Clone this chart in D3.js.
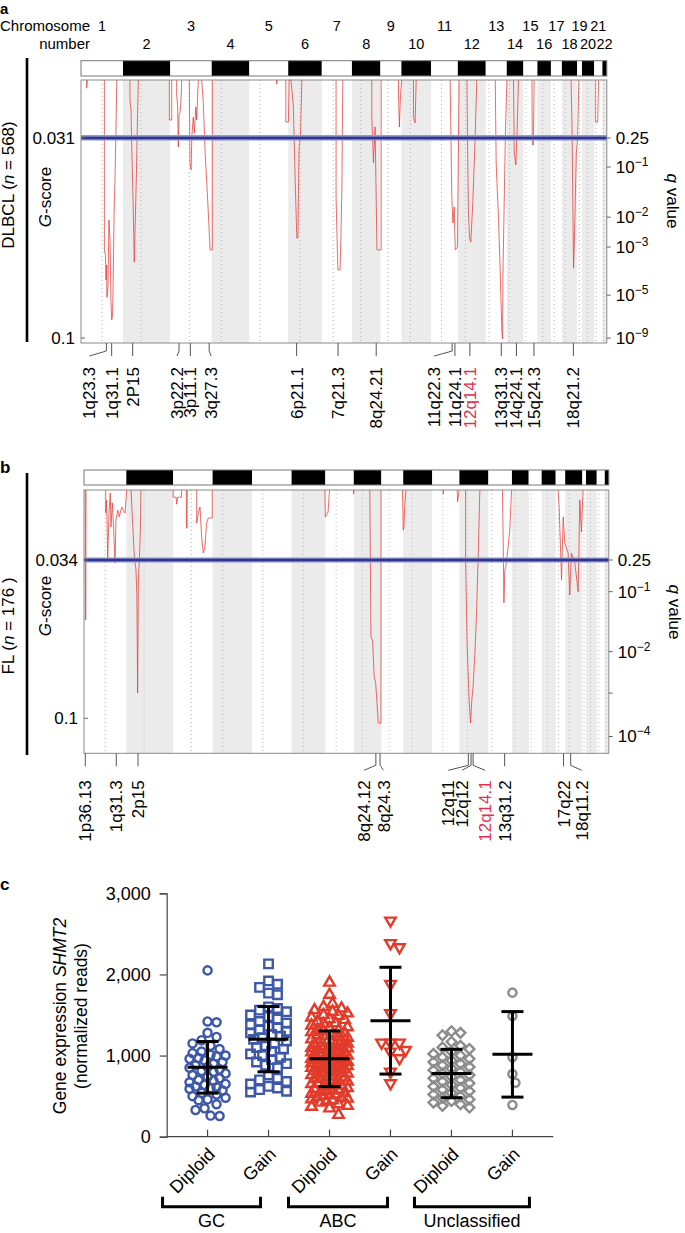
<!DOCTYPE html>
<html>
<head>
<meta charset="utf-8">
<script src="https://cdnjs.cloudflare.com/ajax/libs/d3/7.8.5/d3.min.js"></script>
<style>
body{margin:0;background:#fff;overflow:hidden}
text{font-family:"Liberation Sans",Arial,Helvetica,sans-serif;fill:#000}
</style>
</head>
<body>
<script>
// ---- panel a / b : GISTIC deletion profiles ----
var chrNames = d3.range(1, 23);
// relative chromosome lengths as drawn (genome units)
var chrLenA = [230, 259, 227, 206, 213, 184, 165, 156, 115, 163, 146, 153, 115, 91, 77, 74, 60, 84, 26, 67, 45, 24];
var chrLenB = [232, 257, 216, 217, 216, 185, 156, 151, 120, 159, 149, 159, 129, 92, 71, 77, 52, 94, 20, 59, 44, 22];
var centroFrac = [0.5, 0.38, 0.46, 0.26, 0.27, 0.35, 0.38, 0.31, 0.35, 0.3, 0.39, 0.27, 0.15, 0.16, 0.18, 0.4, 0.3, 0.22, 0.45, 0.43, 0.25, 0.28];

// G-score profile, [genome position, G-score]
var dipsA = [
  [[31,0.011],[31,0.0138],[35,0.011]],
  [[128,0.011],[128,0.0696],[134,0.0714],[137,0.080],[140,0.0748],[142,0.0859],[148,0.0817],[153,0.0593],[159,0.0662],[164,0.0869],[168,0.0938],[173,0.0921],[178,0.0731],[181,0.0576],[186,0.0455],[192,0.0265],[196,0.011]],
  [[268,0.011],[268,0.0179],[274,0.0213],[278,0.0341],[285,0.0524],[292,0.0738],[296,0.0627],[300,0.0524],[304,0.042],[307,0.0317],[314,0.011]],
  [[484,0.011],[484,0.0248],[497,0.0248],[497,0.011]],
  [[524,0.011],[524,0.0162],[529,0.0196],[533,0.0341],[537,0.023],[542,0.0224],[548,0.0179],[552,0.011]],
  [[593,0.011],[597,0.0396],[603,0.042],[607,0.0307],[615,0.0238],[621,0.0293],[629,0.0203],[634,0.0248],[640,0.0144],[643,0.011]],
  [[661,0.011],[670,0.0189],[680,0.0362],[694,0.0524],[701,0.0617],[707,0.0696],[719,0.0696],[719,0.011]],
  [[1072,0.011],[1072,0.0124],[1074,0.011]],
  [[1122,0.011],[1122,0.0255],[1136,0.0255],[1140,0.011],[1150,0.011],[1155,0.0144],[1163,0.020],[1173,0.045],[1182,0.0655],[1188,0.0655],[1192,0.045],[1195,0.0341],[1202,0.0307],[1210,0.011]],
  [[1397,0.011],[1397,0.0514],[1407,0.0765],[1419,0.0765],[1423,0.0672],[1429,0.0479],[1434,0.011]],
  [[1593,0.011],[1593,0.0238],[1602,0.0396],[1611,0.0272],[1621,0.0696],[1644,0.0696],[1644,0.011]],
  [[1739,0.011],[1739,0.016],[1744,0.0272],[1750,0.016],[1757,0.011]],
  [[1821,0.011],[1821,0.0238],[1830,0.0258],[1836,0.011]],
  [[2022,0.011],[2031,0.0514],[2037,0.0603],[2044,0.0548],[2050,0.0696],[2062,0.0686],[2071,0.011]],
  [[2114,0.011],[2117,0.0307],[2122,0.0569],[2128,0.0652],[2135,0.0669],[2146,0.0534],[2159,0.0307],[2168,0.011]],
  [[2269,0.011],[2274,0.0396],[2287,0.0593],[2296,0.0765],[2305,0.0972],[2309,0.1003],[2311,0.079],[2318,0.0534],[2325,0.028],[2333,0.011]],
  [[2369,0.011],[2373,0.0362],[2382,0.0403],[2389,0.028],[2396,0.011]],
  [[2470,0.011],[2472,0.0334],[2478,0.0334],[2482,0.011]],
  [[2684,0.011],[2689,0.0248],[2695,0.0593],[2698,0.0759],[2703,0.0652],[2713,0.0362],[2720,0.0317],[2727,0.011]],
  [[2817,0.011],[2817,0.0255],[2830,0.0255],[2835,0.011]]
];
var dipsB = [
  [[7,0.0048],[8,0.059],[10,0.059],[11,0.0048]],
  [[119,0.0048],[119,0.0144],[124,0.009],[130,0.0332],[137,0.0144],[144,0.006],[148,0.0202],[155,0.0102],[161,0.0186],[170,0.0353],[175,0.0173],[185,0.0132],[193,0.016],[207,0.0119],[215,0.0132],[225,0.0144],[234,0.0048]],
  [[258,0.0048],[265,0.0161],[276,0.0328],[285,0.0382],[290,0.0494],[294,0.0895],[298,0.0423],[303,0.0353],[309,0.0215],[312,0.0048]],
  [[489,0.0048],[489,0.0078],[505,0.0078],[508,0.0107],[514,0.0078],[535,0.0078],[535,0.0048]],
  [[561,0.0048],[562,0.0207],[565,0.0207],[566,0.0048]],
  [[618,0.0048],[618,0.0186],[626,0.0144],[636,0.0119],[645,0.0244],[654,0.0311],[663,0.0286],[672,0.0186],[681,0.0165],[703,0.0165],[703,0.0048]],
  [[1321,0.0048],[1323,0.0161],[1338,0.014],[1346,0.0048]],
  [[1478,0.0048],[1478,0.0065],[1480,0.0048]],
  [[1567,0.0048],[1573,0.0661],[1582,0.0674],[1591,0.0828],[1599,0.0853],[1604,0.0911],[1610,0.0978],[1613,0.102],[1628,0.102],[1628,0.0048]],
  [[1746,0.0048],[1750,0.0215],[1754,0.0201],[1758,0.012],[1765,0.0048]],
  [[1969,0.0048],[1969,0.0065],[1971,0.0048]],
  [[2046,0.0048],[2048,0.0097],[2057,0.0048]],
  [[2092,0.0048],[2092,0.034],[2100,0.0686],[2111,0.0924],[2119,0.102],[2126,0.0924],[2133,0.087],[2143,0.0728],[2152,0.0561],[2160,0.0353],[2170,0.0048]],
  [[2294,0.0048],[2298,0.0257],[2302,0.0519],[2307,0.0382],[2312,0.037],[2325,0.0286],[2334,0.0215],[2344,0.0048]],
  [[2599,0.0048],[2604,0.0102],[2618,0.0423],[2627,0.0161],[2636,0.0269],[2654,0.0311],[2663,0.0486],[2672,0.0311],[2691,0.0353],[2709,0.0473],[2718,0.009],[2727,0.0223],[2736,0.0048]]
];

var gTicksA = [0.031, 0.1];
var gTicksB = [0.034, 0.1];
var qTickGA = [0.031, 0.041, 0.0583, 0.0686, 0.0852, 0.1];
var qTickLabA = ["0.25", "-1", "-2", "-3", "-5", "-9"];
var qTickGB = [0.034, 0.0472, 0.0722, 0.0895, 0.1076];
var qTickLabB = ["0.25", "-1", "-2", "", "-4"];

var peakPosA = [139, 168, 283, 537, 599, 702, 1181, 1408, 1617, 2033, 2048, 2130, 2302, 2385, 2481, 2697];
var peakLabA = ["1q23.3", "1q31.1", "2P15", "3p22.2", "3p11.1", "3q27.3", "6p21.1", "7q21.3", "8q24.21", "11q22.3", "11q24.1", "12q14.1", "13q31.3", "14q24.1", "15q24.3", "18q21.2"];
var peakPosB = [7, 177, 296, 1600, 1623, 2107, 2122, 2133, 2306, 2629, 2668];
var peakLabB = ["1p36.13", "1q31.3", "2p15", "8q24.12", "8q24.3", "12q11", "12q12", "12q14.1", "13q31.2", "17q22", "18q11.2"];
var highlightBand = "12q14.1";

// ---- panel c : SHMT2 expression ----
var catLabels = ["Diploid", "Gain", "Diploid", "Gain", "Diploid", "Gain"];
var groupNames = ["GC", "ABC", "Unclassified"];
var gcDiploid = [2050, 1420, 1410, 1280, 1230, 1190, 1150, 1120, 1080, 1050, 1030, 1010, 1000, 990, 970, 960, 940, 920, 900, 880, 860, 850, 830, 810, 800, 780, 760, 740, 720, 700, 690, 670, 650, 640, 620, 610, 600, 590, 570, 540, 520, 500, 480, 460, 450, 400, 350, 330, 260, 255];
var gcGain = [2130, 1920, 1880, 1840, 1770, 1750, 1600, 1580, 1560, 1540, 1500, 1480, 1450, 1420, 1400, 1380, 1360, 1340, 1320, 1300, 1280, 1260, 1240, 1220, 1200, 1180, 1150, 1120, 1100, 1080, 1050, 1020, 1000, 980, 950, 920, 900, 880, 850, 760, 720, 700, 680, 650, 620, 600, 580, 560, 550];
var abcDiploid = [1900, 1750, 1640, 1600, 1580, 1560, 1540, 1520, 1500, 1490, 1470, 1450, 1440, 1420, 1400, 1390, 1370, 1350, 1340, 1320, 1310, 1300, 1290, 1280, 1260, 1250, 1240, 1230, 1220, 1200, 1190, 1180, 1170, 1160, 1150, 1140, 1130, 1120, 1110, 1100, 1095, 1090, 1080, 1070, 1060, 1050, 1045, 1040, 1030, 1020, 1010, 1005, 1000, 995, 990, 980, 975, 970, 960, 955, 950, 945, 940, 930, 925, 920, 910, 905, 900, 895, 890, 880, 875, 870, 860, 855, 850, 840, 835, 830, 820, 810, 800, 795, 790, 780, 770, 760, 750, 740, 730, 720, 710, 700, 690, 680, 670, 660, 650, 640, 630, 620, 610, 600, 590, 580, 570, 560, 550, 540, 530, 520, 510, 500, 490, 480, 470, 460, 450, 440, 420, 400, 380, 370, 350, 270];
var abcGain = [2663, 2385, 2335, 1883, 1521, 1159, 1159, 1159, 1069, 1048, 966, 801, 658];
var unclDiploid = [1300, 1280, 1250, 1170, 1120, 1100, 1080, 1050, 1020, 1000, 980, 960, 940, 920, 900, 880, 860, 840, 820, 800, 780, 760, 740, 720, 700, 680, 660, 640, 620, 600, 580, 560, 540, 520, 500, 480, 460, 440, 420, 400, 380, 360];
var unclGain = [1776, 1488, 979, 773, 666, 391];
var catMean = [855, 1202, 960, 1430, 779, 1015];
var catSD = [318, 402, 343, 658, 298, 527];

var font = "'Liberation Sans', Arial, Helvetica, sans-serif";
var svg = d3.select("body").append("svg")
    .attr("width", 685)
    .attr("height", 1233);

function drawGenome(o) {
    var starts = d3.cumsum([0].concat(o.chrLen));
    var total = starts[starts.length - 1];
    var x = d3.scaleLinear().domain([0, total]).range([o.left, o.right]);
    var y = d3.scaleLinear().domain(o.gDomain).range([o.plotTop, o.plotBottom]);
    var g = svg.append("g");
    var idx = d3.range(o.chrLen.length);

    // grey shading of even chromosomes
    g.selectAll(".shade").data(idx.filter(function (i) { return i % 2 == 1; }))
        .enter().append("rect")
        .attr("x", function (i) { return x(starts[i]); })
        .attr("width", function (i) { return x(starts[i + 1]) - x(starts[i]); })
        .attr("y", o.plotTop)
        .attr("height", o.plotBottom - o.plotTop)
        .attr("fill", "#ebebeb");

    // centromere dotted lines
    g.selectAll(".cen").data(idx).enter().append("line")
        .attr("x1", function (i) { return x(starts[i] + centroFrac[i] * o.chrLen[i]); })
        .attr("x2", function (i) { return x(starts[i] + centroFrac[i] * o.chrLen[i]); })
        .attr("y1", o.plotTop).attr("y2", o.plotBottom)
        .attr("stroke", "#b5b5b5").attr("stroke-width", 1)
        .attr("stroke-dasharray", "1,3");

    // chromosome bar
    g.selectAll(".chr").data(idx).enter().append("rect")
        .attr("x", function (i) { return x(starts[i]); })
        .attr("width", function (i) { return x(starts[i + 1]) - x(starts[i]); })
        .attr("y", o.barTop).attr("height", o.barBottom - o.barTop)
        .attr("fill", function (i) { return i % 2 ? "#000" : "#fff"; });
    g.append("rect")
        .attr("x", o.left).attr("y", o.barTop)
        .attr("width", o.right - o.left).attr("height", o.barBottom - o.barTop)
        .attr("fill", "none").attr("stroke", "#777").attr("stroke-width", 1);

    // deletion profile
    var line = d3.line().x(function (d) { return x(d[0]); }).y(function (d) { return y(d[1]); });
    g.selectAll(".dip").data(o.dips).enter().append("path")
        .attr("d", line)
        .attr("fill", "none")
        .attr("stroke", "#e53935")
        .attr("stroke-opacity", 0.75)
        .attr("stroke-width", 1);

    // significance threshold
    if (o.green) {
        g.append("line")
            .attr("x1", o.left).attr("x2", o.right)
            .attr("y1", y(o.gTicks[0]) - 2.5).attr("y2", y(o.gTicks[0]) - 2.5)
            .attr("stroke", "#86c386").attr("stroke-width", 1.2);
    }
    g.append("line")
        .attr("x1", o.left).attr("x2", o.right)
        .attr("y1", y(o.gTicks[0])).attr("y2", y(o.gTicks[0]))
        .attr("stroke", "#8c91c9").attr("stroke-width", 5);
    g.append("line")
        .attr("x1", o.left).attr("x2", o.right)
        .attr("y1", y(o.gTicks[0])).attr("y2", y(o.gTicks[0]))
        .attr("stroke", "#2e3590").attr("stroke-width", 2.6);

    // frame
    g.append("rect")
        .attr("x", o.left).attr("y", o.plotTop)
        .attr("width", o.right - o.left).attr("height", o.plotBottom - o.plotTop)
        .attr("fill", "none").attr("stroke", "#8a8a8a").attr("stroke-width", 1);

    // left G-score ticks
    g.selectAll(".lt").data(o.gTicks).enter().append("line")
        .attr("x1", o.left).attr("x2", o.left + 4)
        .attr("y1", function (d) { return y(d); }).attr("y2", function (d) { return y(d); })
        .attr("stroke", "#666");
    g.selectAll(".ll").data(o.gTicks).enter().append("text")
        .attr("x", o.left - 6).attr("y", function (d) { return y(d); })
        .attr("dy", "0.35em").attr("text-anchor", "end")
        .attr("font-size", 17)
        .text(function (d) { return d3.format(".3~f")(d); });

    // right q-value ticks
    g.selectAll(".rt").data(o.qG).enter().append("line")
        .attr("x1", o.right).attr("x2", o.right + 4)
        .attr("y1", function (d) { return y(d); }).attr("y2", function (d) { return y(d); })
        .attr("stroke", "#666");
    o.qG.forEach(function (d, i) {
        var lab = o.qLab[i];
        if (!lab) return;
        var t = g.append("text")
            .attr("x", o.right + 9).attr("y", y(d))
            .attr("dy", "0.35em").attr("font-size", 17);
        if (lab.charAt(0) == "-") {
            t.append("tspan").text("10");
            t.append("tspan").attr("dy", -7).attr("font-size", 12).text("\u2212" + lab.slice(1));
        } else {
            t.text(lab);
        }
    });
    g.append("text")
        .attr("transform", "translate(" + (o.right + 66) + "," + o.qMid + ") rotate(90)")
        .attr("text-anchor", "middle").attr("dy", "0.35em")
        .attr("font-size", 17)
        .html("<tspan font-style='italic'>q</tspan> value");

    // side labels
    g.append("line")
        .attr("x1", 27).attr("x2", 27)
        .attr("y1", o.sideTop).attr("y2", o.sideBottom)
        .attr("stroke", "#000").attr("stroke-width", 2.6);
    g.append("text")
        .attr("transform", "translate(8," + o.nameMid + ") rotate(-90)")
        .attr("text-anchor", "middle").attr("dy", "0.35em")
        .attr("font-size", 17)
        .html(o.nameHtml);
    g.append("text")
        .attr("transform", "translate(45," + o.gMid + ") rotate(-90)")
        .attr("text-anchor", "middle").attr("dy", "0.35em")
        .attr("font-size", 17)
        .html("<tspan font-style='italic'>G</tspan>-score");

    // peak labels
    o.peakPos.forEach(function (p, i) {
        var tx = x(p);
        var lab = o.peakLab[i];
        var lx = tx + (o.shift[lab] || 0);
        var b = o.plotBottom;
        if (o.shift[lab]) {
            g.append("path")
                .attr("d", "M" + tx + "," + b + "V" + (b + o.tickV) + "L" + lx + "," + (b + o.tickEnd))
                .attr("fill", "none").attr("stroke", "#555").attr("stroke-width", 1);
        } else {
            g.append("line")
                .attr("x1", tx).attr("x2", tx)
                .attr("y1", b).attr("y2", b + 13)
                .attr("stroke", "#555").attr("stroke-width", 1);
        }
        g.append("text")
            .attr("transform", "translate(" + lx + "," + (b + o.labGap) + ") rotate(-90)")
            .attr("text-anchor", "end").attr("dy", "0.35em")
            .attr("font-size", 17)
            .style("fill", lab == highlightBand ? "#e0304e" : "#000")
            .text(lab);
    });
    return { x: x, starts: starts };
}

// panel a
var pa = drawGenome({
    chrLen: chrLenA, dips: dipsA, left: 81, right: 606.8,
    barTop: 60.7, barBottom: 76, plotTop: 80, plotBottom: 343,
    gDomain: [0.011, 0.1017], gTicks: gTicksA, qG: qTickGA, qLab: qTickLabA,
    qMid: 201, green: true, sideTop: 58, sideBottom: 342,
    nameMid: 185, gMid: 197,
    nameHtml: "DLBCL (<tspan font-style='italic'>n</tspan> = 568)",
    peakPos: peakPosA, peakLab: peakLabA,
    shift: { "1q23.3": -17, "11q22.3": -18, "3p22.2": -2, "3q27.3": 2 },
    tickV: 8, tickEnd: 13, labGap: 24
});

// chromosome numbers
svg.selectAll(".cnum").data(chrNames).enter().append("text")
    .attr("x", function (d, i) { return pa.x((pa.starts[i] + pa.starts[i + 1]) / 2); })
    .attr("y", function (d, i) { return i % 2 ? 49 : 31; })
    .attr("text-anchor", "middle")
    .attr("font-size", 14.5)
    .text(function (d) { return d; });
svg.append("text").attr("x", 90).attr("y", 31).attr("text-anchor", "end")
    .attr("font-size", 15).text("Chromosome");
svg.append("text").attr("x", 90).attr("y", 49).attr("text-anchor", "end")
    .attr("font-size", 15).text("number");

// panel b
drawGenome({
    chrLen: chrLenB, dips: dipsB, left: 84, right: 608.8,
    barTop: 470, barBottom: 485, plotTop: 490, plotBottom: 753.3,
    gDomain: [0.0048, 0.1146], gTicks: gTicksB, qG: qTickGB, qLab: qTickLabB,
    qMid: 612, green: false, sideTop: 473, sideBottom: 755,
    nameMid: 626, gMid: 606,
    nameHtml: "FL (<tspan font-style='italic'>n</tspan> = 176 )",
    peakPos: peakPosB, peakLab: peakLabB,
    shift: { "8q24.12": -12, "8q24.3": 3.5, "12q11": -20, "12q12": -9, "12q14.1": 12, "18q11.2": 11 },
    tickV: 12, tickEnd: 17, labGap: 27
});

// panel letters
[["a", 14, 15], ["b", 473, 17], ["c", 890, 17]].forEach(function (d) {
    svg.append("text").attr("x", 0).attr("y", d[1])
        .attr("font-size", d[2]).attr("font-weight", "bold").text(d[0]);
});

// ---- panel c ----
var catData = [gcDiploid, gcGain, abcDiploid, abcGain, unclDiploid, unclGain];
var catColor = ["#3e58a8", "#3e58a8", "#e23b2a", "#e23b2a", "#8c8c8c", "#8c8c8c"];
var catSymbol = [
    d3.symbol().type(d3.symbolCircle).size(52),
    d3.symbol().type(d3.symbolSquare).size(72),
    d3.symbol().type(d3.symbolTriangle).size(48),
    d3.symbol().type(d3.symbolTriangle).size(48),
    d3.symbol().type(d3.symbolSquare).size(48),
    d3.symbol().type(d3.symbolCircle).size(52)
];
var catRot = [0, 0, 0, 180, 45, 0];
var catIdx = d3.range(catData.length);

var yc = d3.scaleLinear().domain([0, 3000]).range([1136.7, 893.3]);
var xc = d3.scalePoint().domain(catIdx).range([166.7, 553.3]).padding(0.67);

var yAxis = svg.append("g")
    .attr("transform", "translate(166.7,0)")
    .call(d3.axisLeft(yc).tickValues([0, 1000, 2000, 3000])
        .tickFormat(d3.format(",")).tickSize(7).tickPadding(9));
yAxis.select(".domain").attr("stroke", "#444").attr("stroke-width", 1.2);
yAxis.selectAll(".tick line").attr("stroke", "#444").attr("stroke-width", 1.2);
yAxis.selectAll(".tick text").attr("font-size", 18).attr("font-family", font);

svg.append("line")
    .attr("x1", 166.7).attr("x2", 553.3).attr("y1", yc(0)).attr("y2", yc(0))
    .attr("stroke", "#444").attr("stroke-width", 1.2);
svg.selectAll(".xt").data(catIdx).enter().append("line")
    .attr("x1", function (i) { return xc(i); }).attr("x2", function (i) { return xc(i); })
    .attr("y1", yc(0)).attr("y2", yc(0) - 7)
    .attr("stroke", "#444").attr("stroke-width", 1.2);
svg.selectAll(".xl").data(catIdx).enter().append("text")
    .attr("transform", function (i) { return "translate(" + (xc(i) + 4) + ",1151) rotate(-45)"; })
    .attr("text-anchor", "end").attr("dy", "0.35em")
    .attr("font-size", 18)
    .text(function (i) { return catLabels[i]; });

// y title
svg.append("text")
    .attr("transform", "translate(60,1016) rotate(-90)")
    .attr("text-anchor", "middle").attr("dy", "0.35em").attr("font-size", 17.5)
    .html("Gene expression <tspan font-style='italic'>SHMT2</tspan>");
svg.append("text")
    .attr("transform", "translate(81,1016) rotate(-90)")
    .attr("text-anchor", "middle").attr("dy", "0.35em").attr("font-size", 17.5)
    .text("(normalized reads)");

// non-overlapping horizontal spread of points
function swarm(values, cx) {
    var step = 3, maxW = 20, minD = 9;
    var offs = [0];
    for (var k = 1; k * step <= maxW; k++) offs.push(k * step, -k * step);
    var placed = [];
    values.slice().sort(d3.descending).forEach(function (v) {
        var py = yc(v), best = 0, bestD = -1;
        for (var j = 0; j < offs.length; j++) {
            var md = Infinity;
            placed.forEach(function (p) {
                var dd = Math.hypot(p.x - offs[j], p.y - py);
                if (dd < md) md = dd;
            });
            if (md >= minD) { best = offs[j]; break; }
            if (md > bestD) { bestD = md; best = offs[j]; }
        }
        placed.push({ x: best, y: py });
    });
    return placed.map(function (p) { return { x: cx + p.x, y: p.y }; });
}

catIdx.forEach(function (i) {
    var pts = swarm(catData[i], xc(i));
    svg.append("g").selectAll("path").data(pts).enter().append("path")
        .attr("d", catSymbol[i])
        .attr("transform", function (p) { return "translate(" + p.x + "," + p.y + ") rotate(" + catRot[i] + ")"; })
        .attr("fill", "none")
        .attr("stroke", catColor[i])
        .attr("stroke-width", 2.4);
});

// mean and SD bars
catIdx.forEach(function (i) {
    var cx = xc(i), m = catMean[i], s = catSD[i];
    var eb = svg.append("g").attr("stroke", "#000").attr("stroke-width", 3).attr("fill", "none");
    eb.append("line").attr("x1", cx).attr("x2", cx).attr("y1", yc(m - s)).attr("y2", yc(m + s));
    eb.append("line").attr("x1", cx - 20).attr("x2", cx + 20).attr("y1", yc(m)).attr("y2", yc(m));
    eb.append("line").attr("x1", cx - 11).attr("x2", cx + 11).attr("y1", yc(m + s)).attr("y2", yc(m + s));
    eb.append("line").attr("x1", cx - 11).attr("x2", cx + 11).attr("y1", yc(m - s)).attr("y2", yc(m - s));
});

// group brackets
var bracketPad = [[-45, -8], [-41, -3], [-37, 17]];
groupNames.forEach(function (name, gi) {
    var x0 = xc(gi * 2) + bracketPad[gi][0];
    var x1 = xc(gi * 2 + 1) + bracketPad[gi][1];
    svg.append("path")
        .attr("d", "M" + x0 + ",1196.7V1206.7H" + x1 + "V1196.7")
        .attr("fill", "none").attr("stroke", "#000").attr("stroke-width", 3);
    svg.append("text")
        .attr("x", (x0 + x1) / 2).attr("y", 1227)
        .attr("text-anchor", "middle").attr("font-size", 18)
        .text(name);
});
</script>
</body>
</html>
